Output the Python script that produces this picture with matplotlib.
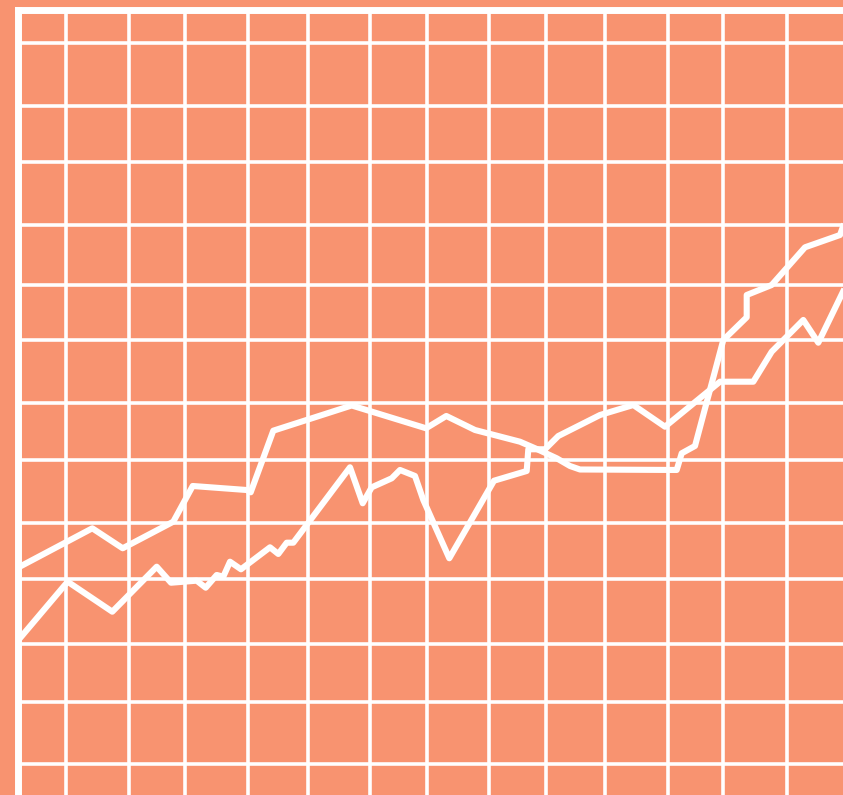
import matplotlib
matplotlib.use('Agg')
import matplotlib.pyplot as plt

# 两条序列（横轴: 天, 纵轴: 指数值）
upper_x = [0, 37.4, 52.6, 77.9, 87.6, 114.6, 116.6, 127.9, 167.1, 204.25, 214.4,
           228.75, 251.25, 259.6, 269.6, 276.25, 281.25, 329.6, 332.1, 338.75,
           352.9, 364.6, 364.6, 377.1, 393.75, 411.25, 412.75]
upper_y = [37.85, 44.45, 41.12, 45.55, 51.5, 50.83, 50.45, 60.72, 64.92, 61.12, 63.17,
           60.83, 58.88, 57.67, 56.12, 54.83, 54.25, 54.17, 56.95, 58.17,
           75.83, 79.62, 83.33, 85.0, 91.28, 93.33, 94.72]

lower_x = [0, 25.1, 47.4, 69.6, 76.75, 89.6, 94.1, 99.6, 102.9, 106.25, 111.75,
           126.25, 130.4, 134.6, 137.9, 166.25, 172.6, 177.1, 187.1, 191.25, 198.75,
           202.9, 215.9, 238.25, 254.6, 255.4, 263.75, 270.4, 291.25, 307.9, 323.75,
           351.25, 367.9, 377.1, 392.9, 400.4, 412.75]
lower_y = [25.65, 35.55, 30.55, 38.05, 35.38, 35.72, 34.55, 36.67, 36.38, 38.88, 37.62,
           41.28, 40.17, 42.05, 42.05, 54.62, 48.62, 51.28, 52.78, 54.17, 53.17,
           49.17, 39.45, 52.38, 54.0, 57.62, 57.62, 59.83, 63.33, 65.0, 61.38,
           68.88, 68.88, 73.88, 79.17, 75.38, 83.88]

# 网格线位置（刻度）
grid_x = [24.25, 55.75, 83.75, 115.25, 145.05, 176.2, 204.75, 235.85, 264.2,
          293.75, 325.15, 352.95, 384.65]
grid_y = [5.23, 15.58, 25.2, 35.98, 45.4, 55.9, 65.27, 75.77, 85.07, 95.0,
          105.5, 114.83, 125.33]

BG = '#F89370'

fig = plt.figure(figsize=(8.43, 7.95), dpi=100, facecolor=BG)
ax = fig.add_axes([17.5 / 843, 0, (843 - 17.5) / 843, (795 - 10) / 795])
ax.set_facecolor(BG)

# 绘制折线
ax.plot(upper_x, upper_y, color='white', linewidth=4.4, solid_joinstyle='round')
ax.plot(lower_x, lower_y, color='white', linewidth=4.4, solid_joinstyle='round')

ax.set_xlim(0, 412.75)
ax.set_ylim(0, 130.83)

# 网格
ax.set_xticks(grid_x)
ax.set_yticks(grid_y)
ax.tick_params(length=0, labelbottom=False, labelleft=False)
ax.grid(True, color='white', linewidth=2.6)
ax.set_axisbelow(True)

# 边框：只保留上、左
for side in ['right', 'bottom']:
    ax.spines[side].set_visible(False)
for side in ['top', 'left']:
    ax.spines[side].set_color('white')
    ax.spines[side].set_linewidth(5.0)

plt.savefig('out.png', dpi=100, facecolor=BG)
plt.close('all')
